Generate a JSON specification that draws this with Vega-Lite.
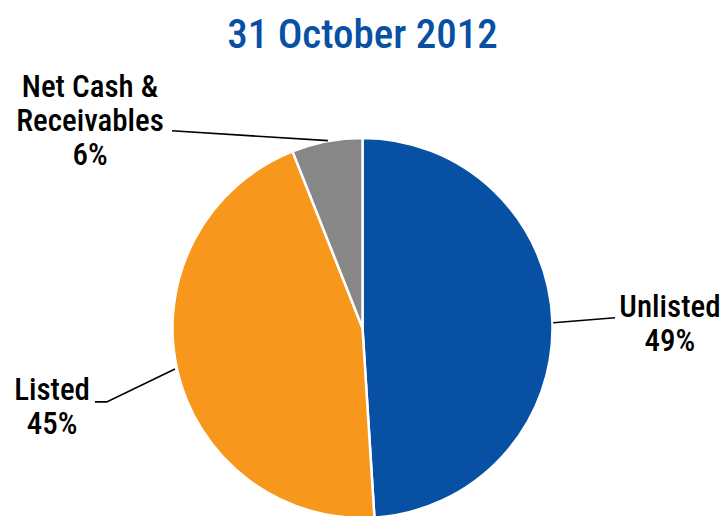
{
  "$schema": "https://vega.github.io/schema/vega-lite/v6.json",
  "width": 725,
  "height": 536,
  "autosize": {"type": "none"},
  "padding": {"top": 60, "left": 0, "right": 0, "bottom": 0},
  "background": "white",
  "config": {"view": {"stroke": null}},
  "title": {
    "text": "31 October 2012",
    "font": "Liberation Sans Narrow, Arial Narrow, Roboto Condensed, sans-serif",
    "fontSize": 41,
    "fontWeight": 500,
    "color": "#0750A4",
    "anchor": "middle",
    "frame": "group",
    "baseline": "alphabetic",
    "offset": -29
  },
  "datasets": {
    "slices": [
      {"category": "Unlisted", "value": 49, "order": 1},
      {"category": "Listed", "value": 45, "order": 2},
      {"category": "Net Cash & Receivables", "value": 6, "order": 3}
    ],
    "labels": [
      {"label": "Net Cash &\nReceivables\n6%", "x": -1.434, "y": 1.263},
      {"label": "Unlisted\n49%", "x": 1.618, "y": 0.105},
      {"label": "Listed\n45%", "x": -1.634, "y": -0.332}
    ],
    "leaders": [
      {"seg": "Net Cash", "i": 1, "x": -1.003, "y": 1.038},
      {"seg": "Net Cash", "i": 2, "x": -0.182, "y": 0.986},
      {"seg": "Unlisted", "i": 1, "x": 1.004, "y": 0.028},
      {"seg": "Unlisted", "i": 2, "x": 1.329, "y": 0.054},
      {"seg": "Listed", "i": 1, "x": -1.408, "y": -0.389},
      {"seg": "Listed", "i": 2, "x": -1.346, "y": -0.389},
      {"seg": "Listed", "i": 3, "x": -0.987, "y": -0.216}
    ]
  },
  "layer": [
    {
      "data": {"name": "slices"},
      "mark": {"type": "arc", "radius": 190, "stroke": "white", "strokeWidth": 2.5},
      "encoding": {
        "theta": {"field": "value", "type": "quantitative", "stack": true},
        "order": {"field": "order", "type": "quantitative"},
        "color": {
          "field": "category",
          "type": "nominal",
          "scale": {
            "domain": ["Unlisted", "Listed", "Net Cash & Receivables"],
            "range": ["#0750A4", "#F7981D", "#878787"]
          },
          "legend": null
        }
      }
    },
    {
      "data": {"name": "leaders"},
      "mark": {"type": "line", "color": "black", "strokeWidth": 1.6},
      "encoding": {
        "x": {"field": "x", "type": "quantitative", "scale": {"domain": [-1.9079, 1.9079], "nice": false, "zero": false}, "axis": null},
        "y": {"field": "y", "type": "quantitative", "scale": {"domain": [-1.4105, 1.4105], "nice": false, "zero": false}, "axis": null},
        "detail": {"field": "seg", "type": "nominal"},
        "order": {"field": "i", "type": "quantitative"}
      }
    },
    {
      "data": {"name": "labels"},
      "mark": {
        "type": "text",
        "align": "center",
        "baseline": "middle",
        "lineBreak": "\n",
        "lineHeight": 34,
        "font": "Liberation Sans Narrow, Arial Narrow, Roboto Condensed, sans-serif",
        "fontSize": 31,
        "fontWeight": 500,
        "color": "black"
      },
      "encoding": {
        "x": {"field": "x", "type": "quantitative", "scale": {"domain": [-1.9079, 1.9079], "nice": false, "zero": false}, "axis": null},
        "y": {"field": "y", "type": "quantitative", "scale": {"domain": [-1.4105, 1.4105], "nice": false, "zero": false}, "axis": null},
        "text": {"field": "label", "type": "nominal"}
      }
    }
  ]
}
